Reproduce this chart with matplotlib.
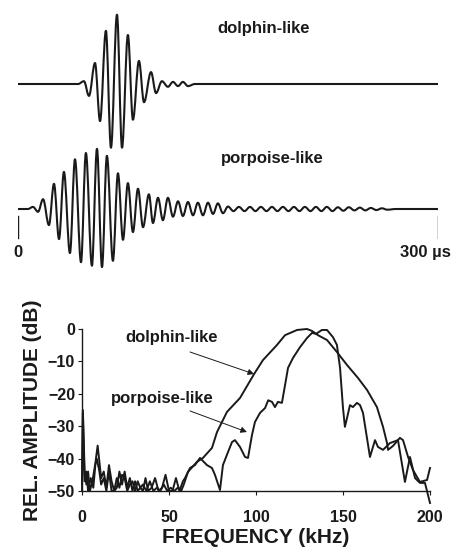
import numpy as np
import matplotlib.pyplot as plt
from matplotlib.path import Path
from matplotlib.patches import PathPatch

plt.rcParams['font.family'] = ['Liberation Sans', 'DejaVu Sans']
plt.rcParams['font.weight'] = 'bold'
plt.rcParams['axes.labelweight'] = 'bold'

INK = '#1a1a1a'

# --- click waveforms: extrema (time in us, relative amplitude) ---
dolphin_t = [0, 42.9, 47.1, 50.7, 55.0, 58.6, 62.8, 66.4, 70.7, 74.3, 78.5, 82.1,
             86.4, 90.0, 95.0, 98.6, 102.8, 107.1, 110.7, 114.3, 117.8, 121.4,
             126.4, 300]
dolphin_a = [0, 0, 0.04, -0.17, 0.30, -0.53, 0.76, -0.91, 0.99, -0.91, 0.70, -0.51,
             0.33, -0.26, 0.17, -0.13, 0.04, -0.04, 0.03, -0.03, 0.03, -0.03,
             0, 0]

porpoise_t = [0, 7.1, 10.7, 14.3, 17.9, 22.1, 25.7, 29.3, 32.8, 37.1, 40.7, 45.0,
              48.5, 52.8, 56.4, 60.0, 63.5, 67.8, 71.4, 75.0, 78.5, 82.1, 85.7,
              89.3, 93.5, 96.4, 100.0, 103.5, 107.1, 110.7, 114.3, 117.8, 121.4,
              125.0, 128.5, 132.1, 135.7, 139.3, 142.8, 146.4,
              150.0, 153.9, 157.8, 161.8, 165.7, 169.6, 173.5, 177.5, 181.4, 185.3,
              189.2, 193.2, 197.1, 201.0, 204.9, 208.9, 212.8, 216.7, 220.6, 224.6,
              228.5, 232.4, 236.3, 240.3, 244.2, 248.1, 252.0, 256.0, 259.9, 263.8,
              270, 300]
porpoise_a = [0, 0, 0.03, -0.04, 0.14, -0.23, 0.36, -0.43, 0.53, -0.63, 0.71, -0.76,
              0.80, -0.81, 0.86, -0.83, 0.76, -0.74, 0.51, -0.44, 0.37, -0.33, 0.29,
              -0.26, 0.21, -0.20, 0.16, -0.16, 0.16, -0.11, 0.11, -0.10, 0.10,
              -0.09, 0.09, -0.09, 0.09, -0.07, 0.08, -0.06,
              0.035, -0.03, 0.03, -0.03, 0.03, -0.03, 0.03, -0.03, 0.03, -0.03,
              0.03, -0.03, 0.03, -0.03, 0.03, -0.03, 0.03, -0.03, 0.03, -0.03,
              0.025, -0.025, 0.025, -0.02, 0.02, -0.02, 0.015, -0.015, 0.01, -0.01,
              0, 0]

# --- spectra (kHz, dB re peak) ---
dolphin_f = [0.0, 0.5, 1.5, 2.5, 3.5, 4.5, 6, 7.5, 8.5, 10, 11, 12.5, 14, 15.5, 17,
             18.5, 20, 21.5, 23, 24.5, 26, 27.5, 29, 30.5, 32, 33.5, 35, 37, 39, 41,
             43, 45, 47, 49, 51, 53, 55, 57, 58.5,
             60.9, 66.1, 69.5, 74.7, 77.6, 83.3, 90.8, 98.9, 104.0, 112.1, 116.7,
             123.6, 129.3, 132.2, 135.6, 140.8, 146.5, 152.3, 158.6, 163.8, 169.5,
             173.0, 175.3, 175.9, 178.7, 182.7, 184.5, 187.4, 190.2, 194.2, 198.3, 200]
dolphin_db = [-48, -25, -44, -48, -44, -50, -47, -42, -40, -44, -48, -46, -50, -44, -50,
              -50, -46, -49, -45, -46, -50, -48, -47, -50, -47, -49, -48, -50, -47, -50,
              -49, -50, -48, -50, -49, -50, -49, -50, -48,
              -44.1, -41.0, -39.8, -36.7, -31.8, -25.6, -21.3, -13.9, -9.6, -4.9, -1.9,
              -0.3, 0, -0.6, -1.9, -3.4, -7.1, -11.1, -15.1, -18.8, -24.1,
              -30.2, -35.2, -37.3, -36.1, -33.6, -34.3, -39.5, -43.5, -47.2, -46.6, -42.9]

porpoise_f = [0, 0.5, 1.5, 2.5, 3.5, 5, 6.5, 8, 9, 10, 11, 12.5, 14, 15.5, 17, 18.5,
              20, 21.5, 23, 24.5, 26, 27.5, 29, 30.5, 32, 33.5, 35, 36.5, 38, 40, 42,
              44, 46, 48, 50, 52, 54, 56, 58,
              59.2, 62.1, 64.9, 67.8, 71.8, 74.7, 76.4, 79.3, 81.0, 83.9, 86.2, 87.9,
              90.8, 93.7, 95.4, 97.7, 99.4, 102.3, 105.2, 107.0, 109.2, 110.9, 112.6,
              114.9, 116.7, 118.4, 121.3, 125.3, 129.3, 132.2, 134.5, 137.9, 140.8,
              144.2, 146.5, 148.3, 150.0, 151.1, 152.3, 154.0, 155.7, 158.0, 159.8,
              161.5, 165.5, 168.4, 170.1, 173.0, 177.0, 181.6, 185.6, 188.5, 191.4,
              194.2, 197.1, 200.0]
porpoise_db = [-50, -26, -47, -44, -50, -46, -49, -40, -36, -41, -46, -44, -49, -42, -47, -50,
               -49, -44, -48, -44, -49, -46, -50, -47, -50, -49, -50, -46, -50, -49, -46,
               -50, -49, -45, -50, -50, -46, -50, -47,
               -46.0, -42.9, -42.0, -39.8, -42.0, -42.9, -45.0, -49.7, -42.0, -38.0, -34.9, -34.3,
               -36.4, -39.5, -39.8, -32.7, -28.7, -25.9, -24.4, -22.0, -22.5, -24.1, -22.5,
               -22.8, -17.3, -12.0, -8.9, -5.6, -2.8, -1.2, -1.5, -0.3, -0.3,
               -2.5, -4.9, -12.0, -24.4, -30.2, -27.5, -23.5, -24.1, -22.8, -23.5,
               -25.9, -39.5, -34.3, -36.4, -37.3, -35.2, -34.3, -47.2, -39.5, -46.0,
               -47.5, -47.5, -53.7]


def wave_path(t, a, offset=0.0):
    # smooth half-cycles: cubic segments with flat tangents at each extremum
    verts = [(t[0], a[0] + offset)]
    codes = [Path.MOVETO]
    for i in range(1, len(t)):
        t0, t1 = t[i - 1], t[i]
        y0, y1 = a[i - 1] + offset, a[i] + offset
        k = 0.36 * (t1 - t0)
        verts += [(t0 + k, y0), (t1 - k, y1), (t1, y1)]
        codes += [Path.CURVE4] * 3
    return Path(verts, codes)


fig = plt.figure(figsize=(4.61, 5.53), dpi=100)

# top: waveforms
ax1 = fig.add_axes([18/461, 1 - 280/553, 420/461, 280/553])
ax1.set_xlim(0, 300)
ax1.set_ylim(-2.8, 1.2)
ax1.axis('off')
porp_off = -125/70
for tt, aa, off in ((dolphin_t, dolphin_a, 0.0), (porpoise_t, porpoise_a, porp_off)):
    ax1.add_patch(PathPatch(wave_path(tt, aa, off), fill=False, edgecolor=INK,
                            lw=1.5, joinstyle='round'))
ax1.text(175.7, 0.8, 'dolphin-like', ha='center', va='center', fontsize=12, color=INK)
ax1.text(181.4, -1.071, 'porpoise-like', ha='center', va='center', fontsize=12, color=INK)
# time scale bar
for t in (0, 300):
    ax1.plot([t, t], [-1.886, -2.2], color=INK, lw=1.0)
ax1.text(0, -2.414, '0', ha='center', va='center', fontsize=12, color=INK)
ax1.text(272.9, -2.414, '300 µs', ha='left', va='center', fontsize=12, color=INK)

# bottom: spectra
ax2 = fig.add_axes([82/461, 62/553, 348/461, 162/553])
ax2.plot(dolphin_f, dolphin_db, color=INK, lw=1.4, clip_on=False)
ax2.plot(porpoise_f, porpoise_db, color=INK, lw=1.4, clip_on=False)
ax2.set_xlim(0, 200)
ax2.set_ylim(-50, 0)
ax2.set_xticks([0, 50, 100, 150, 200])
ax2.set_yticks([0, -10, -20, -30, -40, -50])
ax2.spines['top'].set_visible(False)
ax2.spines['right'].set_visible(False)
for s in ('left', 'bottom'):
    ax2.spines[s].set_color(INK)
    ax2.spines[s].set_linewidth(1.0)
ax2.tick_params(axis='both', direction='out', length=3, width=0.8, color=INK,
                labelsize=11.5, labelcolor=INK)
ax2.tick_params(axis='x', pad=11)
ax2.tick_params(axis='y', pad=2)
for lbl in ax2.get_xticklabels() + ax2.get_yticklabels():
    lbl.set_fontweight('bold')
ax2.set_xlabel('FREQUENCY (kHz)', fontsize=15, color=INK, labelpad=2)
ax2.set_ylabel('REL. AMPLITUDE (dB)', fontsize=15, color=INK, labelpad=4)

ax2.text(51.7, -2.5, 'dolphin-like', ha='center', va='center', fontsize=12, color=INK)
ax2.text(46, -21.3, 'porpoise-like', ha='center', va='center', fontsize=12, color=INK)
arrow = dict(arrowstyle='-|>', lw=0.7, color=INK, mutation_scale=9, shrinkA=0, shrinkB=0)
ax2.annotate('', xy=(98.9, -13.9), xytext=(62.1, -7.1), arrowprops=arrow)
ax2.annotate('', xy=(94.8, -31.8), xytext=(62.1, -25.3), arrowprops=arrow)

fig.savefig('out.png', dpi=100)
